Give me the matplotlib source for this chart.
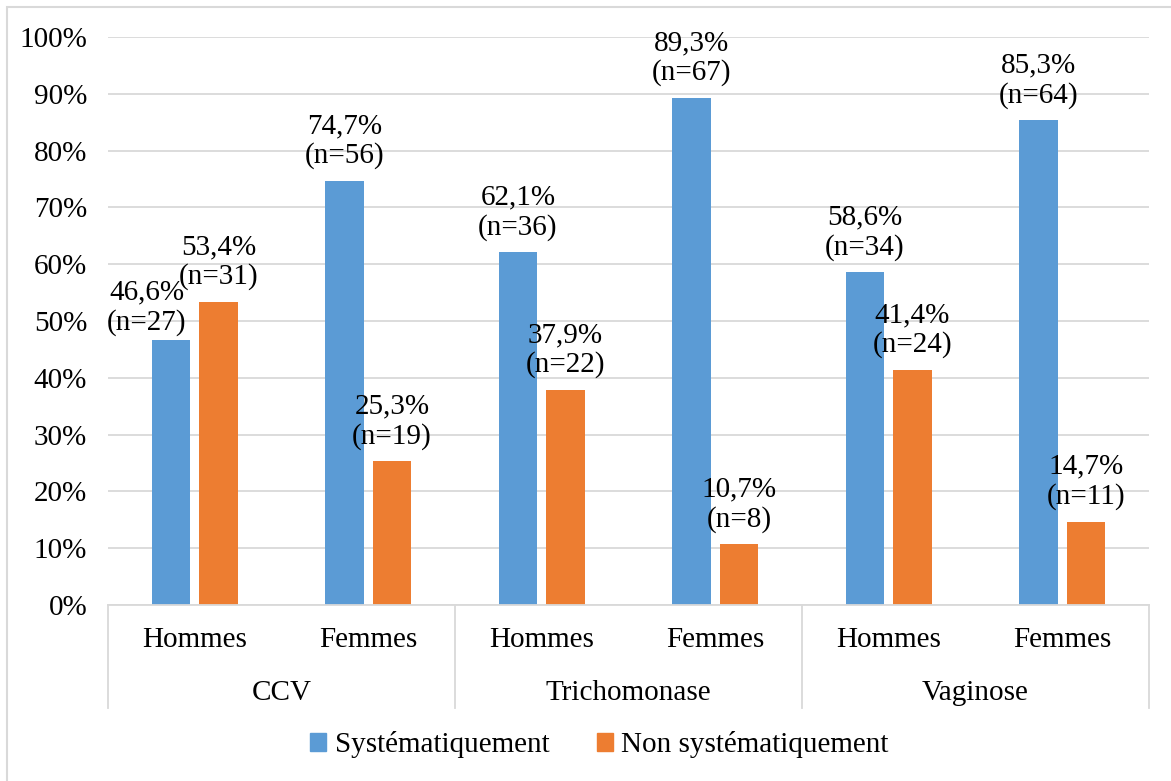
import matplotlib.pyplot as plt
from matplotlib.patches import Rectangle
from matplotlib.lines import Line2D
import numpy as np

plt.rcParams['font.family'] = ['Liberation Serif', 'DejaVu Serif']

groups = ["CCV", "Trichomonase", "Vaginose"]
sexes = ["Hommes", "Femmes"]
series = ["Systématiquement", "Non systématiquement"]
syst_pct = [46.6, 74.7, 62.1, 89.3, 58.6, 85.3]
syst_n = [27, 56, 36, 67, 34, 64]
non_pct = [53.4, 25.3, 37.9, 10.7, 41.4, 14.7]
non_n = [31, 19, 22, 8, 24, 11]

blue = "#5B9BD5"
orange = "#ED7D31"
grid = "#D9D9D9"
fs = 21

fig = plt.figure(figsize=(11.71, 7.81), dpi=100)
ax = fig.add_axes([108/1171, 1-605/781, (1149-108)/1171, 568/781])

x = np.arange(len(syst_pct))
w = 0.22
off = 0.137
ax.bar(x - off, np.array(syst_pct)/100, w, color=blue, zorder=2)
ax.bar(x + off, np.array(non_pct)/100, w, color=orange, zorder=2)

def lab(p, n):
    return f"{p:.1f}".replace(".", ",") + f"%\n(n={n})"

# label nudges to avoid overlaps (in data units)
dx_syst = {0: -0.14}
dy_syst = {0: -0.012}
for i in x:
    ax.text(i - off + dx_syst.get(i, 0), syst_pct[i]/100 + 0.02 + dy_syst.get(i, 0),
            lab(syst_pct[i], syst_n[i]), ha="center", va="bottom",
            fontsize=fs, linespacing=1.17)
    ax.text(i + off, non_pct[i]/100 + 0.02, lab(non_pct[i], non_n[i]),
            ha="center", va="bottom", fontsize=fs, linespacing=1.17)

ax.set_xlim(-0.5, len(x) - 0.5)
ax.set_ylim(0, 1)
ax.set_yticks(np.arange(0, 1.01, 0.1))
ax.set_yticklabels([f"{int(round(t*100))}%" for t in np.arange(0, 1.01, 0.1)])
ax.tick_params(axis="y", length=0, pad=15, labelsize=fs)
ax.set_xticks([])
ax.yaxis.grid(True, color=grid, linewidth=1.3, zorder=0)
for s in ["top", "right", "left"]:
    ax.spines[s].set_visible(False)
ax.spines["bottom"].set_color(grid)
ax.spines["bottom"].set_linewidth(1.3)

# two-level category axis
trans = ax.get_xaxis_transform()
for i in x:
    ax.text(i, -0.062, sexes[i % 2], ha="center", va="center", fontsize=fs, transform=trans)
for g, name in enumerate(groups):
    ax.text(2*g + 0.5, -0.155, name, ha="center", va="center", fontsize=fs, transform=trans)
for b in [-0.5, 1.5, 3.5, 5.5]:
    ax.add_line(Line2D([b, b], [0, -0.181], color=grid, linewidth=1.3,
                       transform=trans, clip_on=False))

handles = [Rectangle((0, 0), 1, 1, color=blue), Rectangle((0, 0), 1, 1, color=orange)]
fig.legend(handles, series, loc="center", bbox_to_anchor=(0.512, 1-745/781), ncol=2,
           frameon=False, fontsize=fs, handlelength=0.55, handleheight=0.55,
           handletextpad=0.3, columnspacing=1.6)

fig.patches.append(Rectangle((7/1171, -0.05), 1.1, 1-7/781+0.05, transform=fig.transFigure,
                             fill=False, edgecolor=grid, linewidth=1.5))

fig.savefig("out.png", dpi=100)
